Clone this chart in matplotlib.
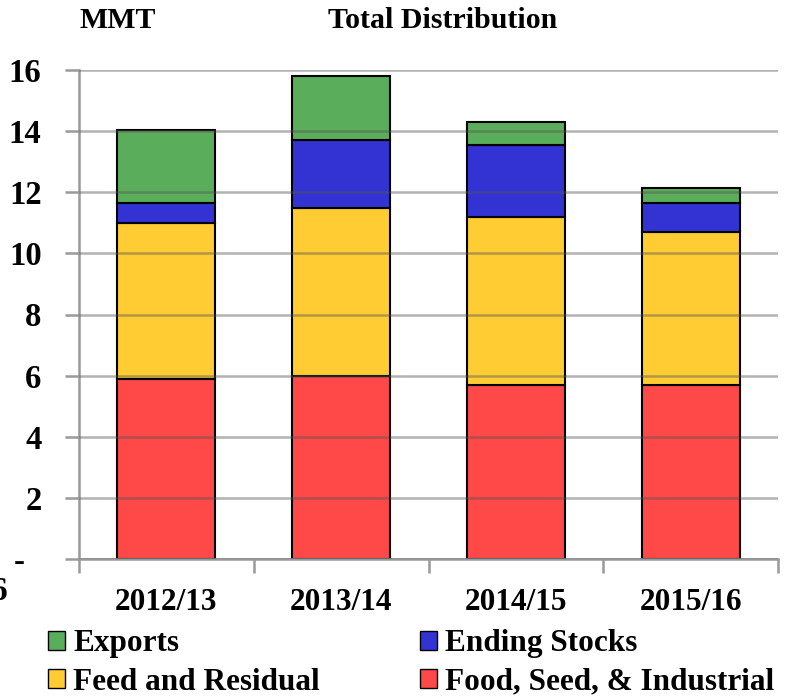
import numpy as np
import matplotlib.pyplot as plt
from matplotlib.patches import Patch

years = ["2012/13", "2013/14", "2014/15", "2015/16"]
food_seed_ind = [5.9, 6.0, 5.7, 5.7]
feed_residual = [5.1, 5.5, 5.5, 5.0]
ending_stocks = [0.65, 2.2, 2.35, 0.95]
exports = [2.4, 2.1, 0.75, 0.5]

c_food = "#ff4848"
c_feed = "#ffcc33"
c_end = "#3333d4"
c_exp = "#5aad5a"

plt.rcParams["font.family"] = ["Liberation Serif", "DejaVu Serif"]
plt.rcParams["font.weight"] = "bold"

fig = plt.figure(figsize=(7.93, 6.96), dpi=100)
ax = fig.add_axes([79 / 793, 1 - 559 / 696, 699 / 793, 489 / 696])

x = np.arange(len(years))
w = 0.56
b1 = np.array(food_seed_ind)
b2 = b1 + np.array(feed_residual)
b3 = b2 + np.array(ending_stocks)
kw = dict(width=w, edgecolor="black", linewidth=1.5, zorder=2)
ax.bar(x, food_seed_ind, color=c_food, **kw)
ax.bar(x, feed_residual, bottom=b1, color=c_feed, **kw)
ax.bar(x, ending_stocks, bottom=b2, color=c_end, **kw)
ax.bar(x, exports, bottom=b3, color=c_exp, **kw)

ax.set_xlim(-0.5, 3.5)
ax.set_ylim(0, 16)
ax.set_yticks(range(0, 17, 2))
ax.set_yticklabels(["-  "] + [str(v) for v in range(2, 17, 2)], fontsize=23.5, fontweight="bold")
ax.yaxis.grid(True, color="#555555", alpha=0.45, linewidth=1.8, zorder=3)
ax.set_axisbelow(False)
ax.tick_params(axis="y", length=10, color="#999999", width=1.8, pad=17)

ax.set_xticks(x)
ax.set_xticklabels(years, fontsize=22.5, fontweight="bold")
ax.set_xticks(np.arange(-0.5, 4, 1), minor=True)
ax.tick_params(axis="x", which="major", length=0, pad=21)
ax.tick_params(axis="x", which="minor", length=10, color="#999999", width=1.8)

for s in ["top", "right"]:
    ax.spines[s].set_visible(False)
for s in ["left", "bottom"]:
    ax.spines[s].set_color("#999999")
    ax.spines[s].set_linewidth(1.8)

fig.text(80 / 793, 1 - 20 / 696, "MMT", fontsize=21.5, fontweight="bold", va="center")
fig.text(443 / 793, 1 - 20 / 696, "Total Distribution", fontsize=21.5, fontweight="bold",
         va="center", ha="center")
fig.text(-0.012, 1 - 592 / 696, "6", fontsize=24, fontweight="bold", va="center")

handles = [Patch(facecolor=c_exp, edgecolor="black"),
           Patch(facecolor=c_feed, edgecolor="black"),
           Patch(facecolor=c_end, edgecolor="black"),
           Patch(facecolor=c_food, edgecolor="black")]
labels = ["Exports", "Feed and Residual", "Ending Stocks", "Food, Seed, & Industrial"]
fig.legend(handles, labels, ncol=2, loc="center", bbox_to_anchor=(411 / 793, 1 - 663 / 696),
           frameon=False, prop={"size": 22.5, "weight": "bold"},
           handlelength=0.55, handleheight=0.55, handletextpad=0.25,
           columnspacing=3.2, labelspacing=0.3, borderaxespad=0, borderpad=0)

fig.savefig("out.png", dpi=100)
